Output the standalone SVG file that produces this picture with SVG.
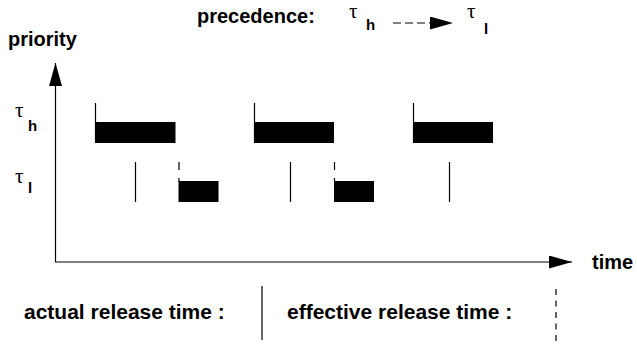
<svg xmlns="http://www.w3.org/2000/svg" width="637" height="344" viewBox="0 0 637 344">
  <style>
    .lbl { font-family: "Liberation Sans", Arial, sans-serif; font-weight: bold; font-size: 20px; fill: #000; }
    .big { font-size: 21px; }
    .tau { font-family: "Liberation Serif", "DejaVu Serif", serif; font-size: 21px; fill: #000; }
    .sub { font-family: "Liberation Sans", Arial, sans-serif; font-weight: bold; font-size: 15px; fill: #000; }
    .ln { stroke: #000; stroke-width: 1.2; fill: none; }
    .dash { stroke: #000; stroke-width: 1.2; fill: none; stroke-dasharray: 8 8; }
    .dashl { stroke: #000; stroke-width: 1.2; fill: none; stroke-dasharray: 6 5.5; }
    .bar { fill: #000; }
  </style>
  <defs>
    <marker id="ah" viewBox="0 0 23 13" refX="23" refY="6.5" markerWidth="23" markerHeight="13" markerUnits="userSpaceOnUse" orient="auto">
      <path d="M0,0 L23,6.5 L0,13 Z" fill="#000"/>
    </marker>
  </defs>

  <!-- title: precedence relation -->
  <g id="precedence">
    <text class="lbl" x="197" y="23">precedence:</text>
    <text class="tau" x="349" y="18">τ</text>
    <text class="sub" x="366" y="30">h</text>
    <line class="dash" x1="393" y1="23" x2="453" y2="23" style="stroke-dasharray: 8 4" marker-end="url(#ah)"/>
    <text class="tau" x="467" y="18">τ</text>
    <text class="sub" x="484" y="34">l</text>
  </g>

  <!-- axes -->
  <g id="axes">
    <line class="ln" x1="55.5" y1="262" x2="55.5" y2="63" marker-end="url(#ah)"/>
    <line class="ln" x1="55" y1="262" x2="572" y2="262" marker-end="url(#ah)"/>
    <text class="lbl" x="8" y="46">priority</text>
    <text class="lbl" x="592" y="269">time</text>
  </g>

  <!-- task labels -->
  <g id="label-h">
    <text class="tau" x="15" y="117">τ</text>
    <text class="sub" x="28" y="131">h</text>
  </g>
  <g id="label-l">
    <text class="tau" x="15" y="183">τ</text>
    <text class="sub" x="28" y="193">l</text>
  </g>

  <!-- high priority task: release and execution -->
  <g id="task-h">
    <line class="ln" x1="95.5" y1="103" x2="95.5" y2="143"/>
    <rect class="bar" x="95" y="122" width="80.5" height="21"/>
    <line class="ln" x1="254.5" y1="103" x2="254.5" y2="143"/>
    <rect class="bar" x="254" y="122" width="80" height="21"/>
    <line class="ln" x1="413.5" y1="103" x2="413.5" y2="143"/>
    <rect class="bar" x="413" y="122" width="80" height="21"/>
  </g>

  <!-- low priority task: actual release, effective release and execution -->
  <g id="task-l">
    <line class="ln" x1="135.5" y1="162" x2="135.5" y2="202"/>
    <line class="dash" x1="179" y1="162" x2="179" y2="182"/>
    <rect class="bar" x="178.5" y="181" width="40" height="21"/>
    <line class="ln" x1="290.5" y1="162" x2="290.5" y2="202"/>
    <line class="dash" x1="334.5" y1="162" x2="334.5" y2="182"/>
    <rect class="bar" x="334" y="181" width="40" height="21"/>
    <line class="ln" x1="449.5" y1="162" x2="449.5" y2="202"/>
  </g>

  <!-- legend -->
  <g id="legend">
    <text class="lbl big" x="24" y="319">actual release time :</text>
    <line class="ln" x1="262" y1="286" x2="262" y2="340"/>
    <text class="lbl big" x="287" y="319">effective release time :</text>
    <line class="dashl" x1="556" y1="289" x2="556" y2="341"/>
  </g>
</svg>
